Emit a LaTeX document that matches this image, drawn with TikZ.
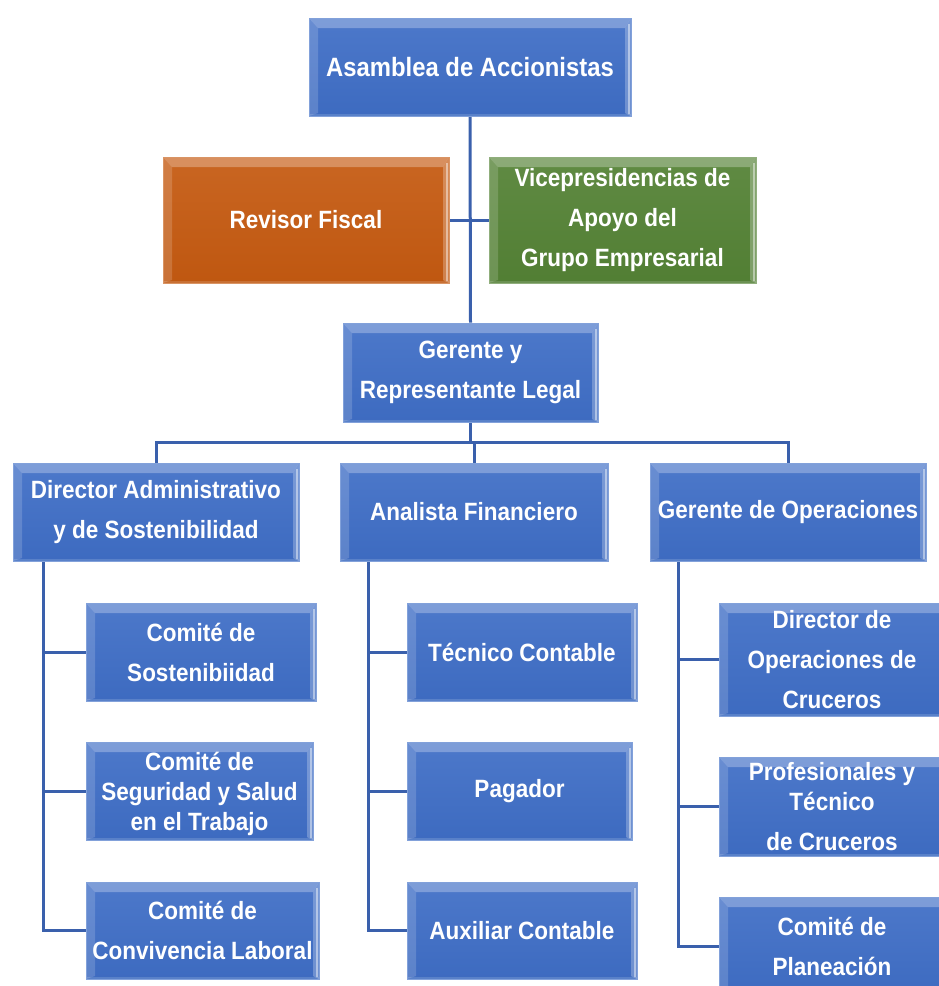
\documentclass[tikz,border=0pt]{standalone}
\usepackage{fontspec}
\newfontfamily\boxfont{Liberation Sans}[FakeStretch=0.9]
\usetikzlibrary{calc}
\definecolor{boxblue}{HTML}{3F6EC6}
\definecolor{boxorange}{HTML}{C55A11}
\definecolor{boxgreen}{HTML}{548235}
\definecolor{linkblue}{HTML}{3A60AC}
\pgfdeclarelayer{background}
\pgfsetlayers{background,main}
\tikzset{
  bevelbox/.style={rectangle, inner sep=0pt, align=center, text=white,
    font=\boxfont\bfseries\fontsize{25}{40}\selectfont,
    top color=#1!93!white, bottom color=#1!97!black,
    draw=#1!65!white, line width=0.8pt,
    path picture={
      % upper bevel
      \fill[white, opacity=0.28]
        (path picture bounding box.north west) -- (path picture bounding box.north east)
        -- ([xshift=-6pt,yshift=-10pt]path picture bounding box.north east)
        -- ([xshift=9pt,yshift=-10pt]path picture bounding box.north west) -- cycle;
      % left bevel
      \fill[white, opacity=0.16]
        (path picture bounding box.north west) -- ([xshift=9pt,yshift=-10pt]path picture bounding box.north west)
        -- ([xshift=9pt,yshift=3pt]path picture bounding box.south west)
        -- (path picture bounding box.south west) -- cycle;
      % right bevel with bright edge
      \fill[white, opacity=0.25]
        (path picture bounding box.north east) -- ([xshift=-6pt,yshift=-10pt]path picture bounding box.north east)
        -- ([xshift=-6pt,yshift=3pt]path picture bounding box.south east)
        -- (path picture bounding box.south east) -- cycle;
      \fill[white, opacity=0.45]
        ([xshift=-3.5pt,yshift=-6pt]path picture bounding box.north east)
        rectangle ([xshift=-1pt,yshift=2pt]path picture bounding box.south east);
      % thin lower edge
      \fill[white, opacity=0.15]
        (path picture bounding box.south west) rectangle ([yshift=2pt]path picture bounding box.south east);
    }},
  link/.style={draw=linkblue, line width=3pt},
  tight/.style={font=\boxfont\bfseries\fontsize{25}{30}\selectfont},
  bigger/.style={font=\boxfont\bfseries\fontsize{26.5}{40}\selectfont}
}
\begin{document}
\begin{tikzpicture}[x=1pt, y=-1pt]
\useasboundingbox (0,0) rectangle (938,986);

% top level
\node[bevelbox=boxblue, bigger, minimum width=322pt, minimum height=98pt] (asam) at (470,67) {Asamblea de Accionistas};
\node[bevelbox=boxorange, minimum width=286pt, minimum height=126pt] (rev) at (306,220) {Revisor Fiscal};
\node[bevelbox=boxgreen, minimum width=267pt, minimum height=126pt] (vice) at (622.5,220) {Vicepresidencias de\\Apoyo del\\Grupo Empresarial};
\node[bevelbox=boxblue, minimum width=255pt, minimum height=99pt] (ger) at (470.5,372.5) {Gerente y\\Representante Legal};

% second level
\node[bevelbox=boxblue, minimum width=286pt, minimum height=98pt] (dir) at (156,512) {Director Administrativo\\y de Sostenibilidad};
\node[bevelbox=boxblue, minimum width=268pt, minimum height=98pt] (ana) at (474,512) {Analista Financiero};
\node[bevelbox=boxblue, minimum width=276pt, minimum height=98pt] (gop) at (788,512) {Gerente de Operaciones};

% committees under the administrative director
\node[bevelbox=boxblue, minimum width=230pt, minimum height=98pt] (sost) at (201,652) {Comité de\\Sostenibiidad};
\node[bevelbox=boxblue, tight, minimum width=227pt, minimum height=98pt, text depth=0pt] (seg) at (199.5,791) {Comité de\\Seguridad y Salud\\en el Trabajo};
\node[bevelbox=boxblue, minimum width=233pt, minimum height=97pt] (conv) at (202.5,930.5) {Comité de\\Convivencia Laboral};

% finance staff
\node[bevelbox=boxblue, minimum width=230pt, minimum height=98pt] (tec) at (522,652) {Técnico Contable};
\node[bevelbox=boxblue, minimum width=225pt, minimum height=98pt] (pag) at (519.5,791) {Pagador};
\node[bevelbox=boxblue, minimum width=230pt, minimum height=97pt] (aux) at (522,930.5) {Auxiliar Contable};

% operations staff
\node[bevelbox=boxblue, minimum width=226pt, minimum height=113pt] (dop) at (832,659.5) {Director de\\Operaciones de\\Cruceros};
\node[bevelbox=boxblue, minimum width=226pt, minimum height=99pt] (prof) at (832,806.5) {Profesionales y\\[-10pt]Técnico\\de Cruceros};
\node[bevelbox=boxblue, minimum width=226pt, minimum height=98pt] (plan) at (832,946) {Comité de\\Planeación};

% connectors
\coordinate (bus) at (0,442);
\coordinate (lv) at (43,0);
\coordinate (mv) at (368,0);
\coordinate (rv) at (678,0);
\begin{pgfonlayer}{background}
  \draw[link] (asam.south) -- (ger.north);
  \draw[link] (rev.east) -- (vice.west);
  \draw[link] (ger.south) -- (ger.south |- bus);
  \draw[link] (dir.north) -- (dir.north |- bus) -| (gop.north);
  \draw[link] (ana.north) -- (ana.north |- bus);

  \draw[link] (lv |- dir.south) |- (conv.west);
  \draw[link] (lv |- sost.west) -- (sost.west);
  \draw[link] (lv |- seg.west) -- (seg.west);

  \draw[link] (mv |- ana.south) |- (aux.west);
  \draw[link] (mv |- tec.west) -- (tec.west);
  \draw[link] (mv |- pag.west) -- (pag.west);

  \draw[link] (rv |- gop.south) |- (plan.west);
  \draw[link] (rv |- dop.west) -- (dop.west);
  \draw[link] (rv |- prof.west) -- (prof.west);
\end{pgfonlayer}
\end{tikzpicture}
\end{document}
